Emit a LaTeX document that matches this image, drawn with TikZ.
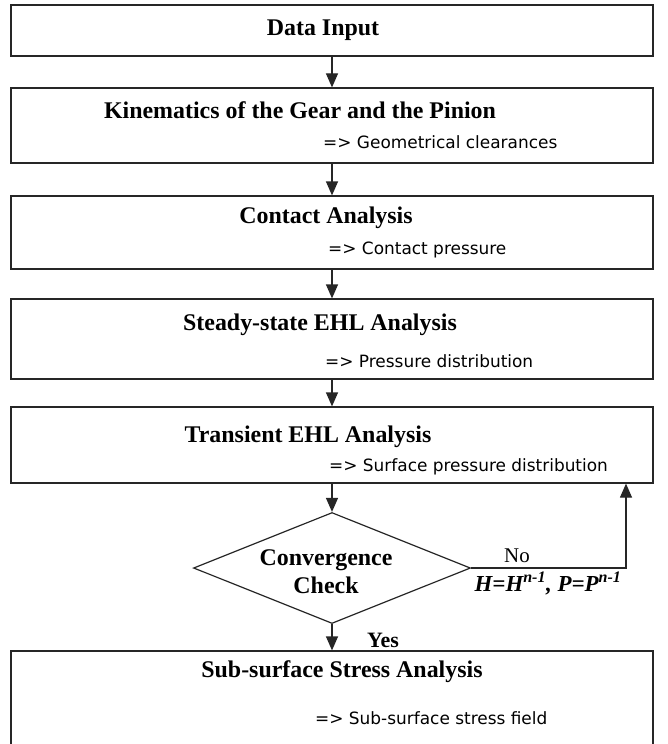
\documentclass[tikz,border=0pt]{standalone}
\usepackage{fontspec}
\setmainfont{Liberation Serif}
\setsansfont{DejaVu Sans}
\usepackage{tikz}
\usetikzlibrary{arrows.meta}
\usetikzlibrary{shapes.geometric}
\tikzset{
stepbox/.style={
  rectangle,
  draw=black!85,
  line width=1.2bp,
  minimum width=642bp,
  inner sep=0pt
},
checkbox/.style={
  diamond,
  draw=black!85,
  line width=1.2bp,
  aspect=2.5,
  inner sep=0pt,
  minimum width=277bp,
  minimum height=111bp
},
boxtitle/.style={font=\fontsize{24}{28}\selectfont\bfseries, inner sep=0pt},
boxnote/.style={font=\sffamily\fontsize{17}{20}\selectfont, anchor=west, inner sep=0pt},
flow/.style={-{Triangle[length=14bp,width=12bp]}, line width=1.2bp, draw=black!85},
%flow/.style={-Stealth},
}

\begin{document}
\begin{tikzpicture}[x=1bp, y=-1bp]
\useasboundingbox (0,0) rectangle (668,744);
% the boxes
\node[stepbox, minimum height=51bp] (input) at (332,30.5) {};
\node[stepbox, minimum height=75bp] (kin) at (332,125.5) {};
\node[stepbox, minimum height=73bp] (contact) at (332,232.5) {};
\node[stepbox, minimum height=80bp] (steady) at (332,339) {};
\node[stepbox, minimum height=76bp] (trans) at (332,445) {};
\node[checkbox] (conv) at (332,568) {};
\node[stepbox, minimum height=95bp] (stress) at (332,698.5) {};
% the texts
\node[boxtitle] (inputtitle) at (323,30) {Data Input};
\node[boxtitle] (kintitle) at (300,110) {Kinematics of the Gear and the Pinion};
\node[boxnote] (kinnote) at (323,142) {=>\ Geometrical clearances};
\node[boxtitle] (contacttitle) at (326,218) {Contact Analysis};
\node[boxnote] (contactnote) at (328,250) {=>\ Contact pressure};
\node[boxtitle] (steadytitle) at (320,325) {Steady-state EHL Analysis};
\node[boxnote] (steadynote) at (325,361) {=>\ Pressure distribution};
\node[boxtitle] (transtitle) at (308,437) {Transient EHL Analysis};
\node[boxnote] (transnote) at (329,467) {=>\ Surface pressure distribution};
\node[boxtitle, align=center] (convtitle) at (326,572) {Convergence\\Check};
\node[boxtitle] (stresstitle) at (342,672) {Sub-surface Stress Analysis};
\node[boxnote] (stressnote) at (315,718) {=>\ Sub-surface stress field};
% the labels
\node[font=\fontsize{21}{24}\selectfont, inner sep=0pt] (no) at (517,556) {No};
\node[font=\fontsize{23}{26}\selectfont\bfseries\itshape, inner sep=0pt] (update) at (548,583)
  {H=H\textsuperscript{n-1}, P=P\textsuperscript{n-1}};
\node[font=\fontsize{22}{24}\selectfont\bfseries, inner sep=0pt] (yes) at (383,640) {Yes};
% the arrows
\foreach \a/\b in {input/kin, kin/contact, contact/steady, steady/trans, trans/conv, conv/stress}
{
  \draw[flow] (\a.south) -- (\b.north);
}
\coordinate (loop) at (626,568);
\draw[flow] (conv.east) -- (loop) -- (loop |- trans.south);
\end{tikzpicture}
\end{document}
